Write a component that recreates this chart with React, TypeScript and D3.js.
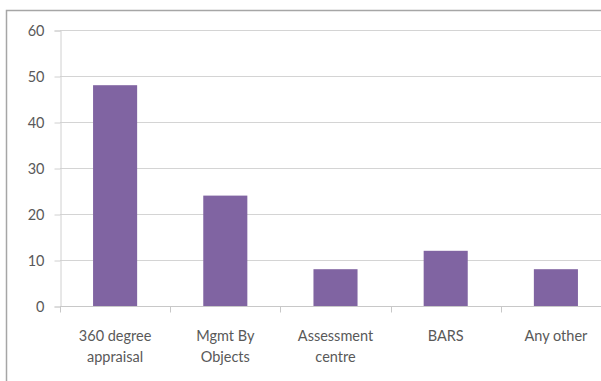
import * as d3 from 'd3';
import React, { useRef, useEffect } from 'react';

const categories = [["360 degree", "appraisal"], ["Mgmt By", "Objects"], ["Assessment", "centre"], ["BARS"], ["Any other"]];
const values = [48, 24, 8, 12, 8];
const yTicks = [0, 10, 20, 30, 40, 50, 60];

function App(): any {
  const ref = useRef(null);

  const width = 601;
  const height = 381;
  const margin = { top: 30, right: -10, bottom: 75, left: 60 };

  useEffect(() => {
    const svg = d3.select(ref.current);
    svg.selectAll("*").remove();

    const keys = categories.map((c) => c.join(" "));
    const xScale = d3.scaleBand()
      .domain(keys)
      .range([margin.left, width - margin.right])
      .paddingInner(0.6)
      .paddingOuter(0.3);

    const yScale = d3.scaleLinear()
      .domain([0, 60])
      .range([height - margin.bottom, margin.top]);

    // frame
    svg.append("rect")
      .attr("x", 6.5).attr("y", 10.5)
      .attr("width", 700).attr("height", 500)
      .attr("fill", "white")
      .attr("stroke", "#a6a6a6")
      .attr("stroke-width", 1.5);

    // gridlines
    svg.append("g")
      .selectAll("line")
      .data(yTicks.filter((t) => t > 0))
      .join("line")
      .attr("x1", margin.left)
      .attr("x2", width)
      .attr("y1", (d) => Math.round(yScale(d)) + 0.5)
      .attr("y2", (d) => Math.round(yScale(d)) + 0.5)
      .attr("stroke", "#d4d4d4");

    const yAxis = svg.append("g")
      .attr("transform", "translate(" + (margin.left + 0.5) + ",0.5)")
      .call(d3.axisLeft(yScale).tickValues(yTicks).tickSize(6).tickPadding(10));
    yAxis.select(".domain").attr("stroke", "#d0d0d0");
    yAxis.selectAll(".tick line").attr("stroke", "#d0d0d0");
    yAxis.selectAll(".tick text")
      .attr("fill", "#595959")
      .style("font-family", "Lato, 'Open Sans', sans-serif")
      .style("font-size", "14.5px");

    // bars
    svg.append("g")
      .selectAll("rect")
      .data(values)
      .join("rect")
      .attr("x", (_, i) => xScale(keys[i]) as number)
      .attr("y", (d) => yScale(d))
      .attr("width", xScale.bandwidth())
      .attr("height", (d) => yScale(0) - yScale(d))
      .attr("fill", "#8064a2");

    // x axis
    const y0 = Math.round(yScale(0)) + 0.5;
    const bandW = (width - margin.right - margin.left) / 5;
    svg.append("line")
      .attr("x1", margin.left).attr("x2", width)
      .attr("y1", y0).attr("y2", y0)
      .attr("stroke", "#c8c8c8");
    svg.append("g")
      .selectAll("line")
      .data(d3.range(0, 6))
      .join("line")
      .attr("x1", (i) => Math.round(margin.left + i * bandW) + 0.5)
      .attr("x2", (i) => Math.round(margin.left + i * bandW) + 0.5)
      .attr("y1", y0)
      .attr("y2", y0 + 6)
      .attr("stroke", "#c8c8c8");

    const labels = svg.append("g")
      .selectAll("text")
      .data(categories)
      .join("text")
      .attr("x", (_, i) => (xScale(keys[i]) as number) + xScale.bandwidth() / 2)
      .attr("y", y0 + 34)
      .attr("text-anchor", "middle")
      .attr("fill", "#595959")
      .style("font-family", "Lato, 'Open Sans', sans-serif")
      .style("font-size", "14.5px");
    labels.selectAll("tspan")
      .data((d) => d)
      .join("tspan")
      .attr("x", function () { return (this as any).parentNode.getAttribute("x"); })
      .attr("dy", (_, i) => (i === 0 ? 0 : 21))
      .text((d) => d);
  }, []);

  return (
    <svg
      ref={ref}
      width={width}
      height={height}
      style={{ position: "absolute", left: 0, top: 0, background: "white" }}
    />
  );
}

export default App;
